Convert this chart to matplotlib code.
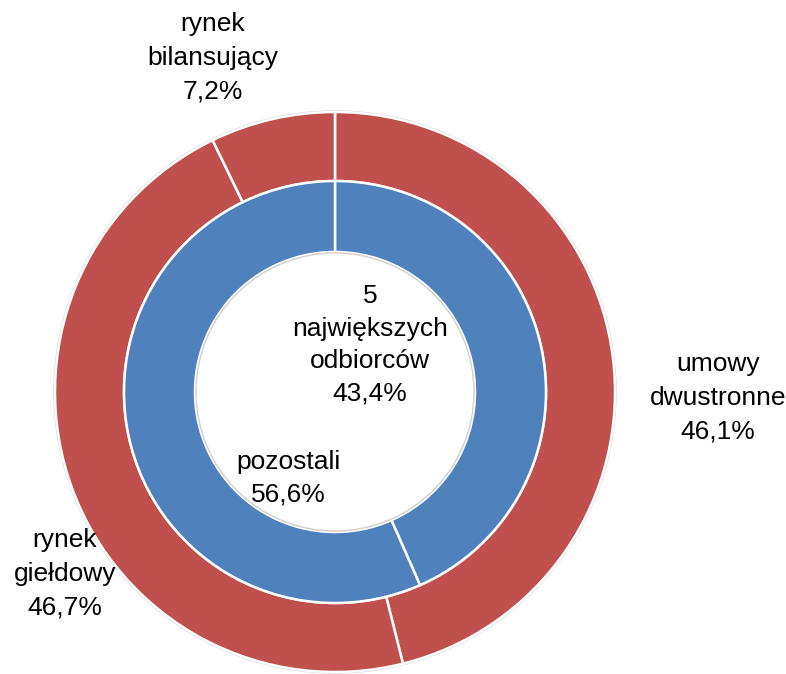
import matplotlib.pyplot as plt

# Data
outer_labels = ["umowy\ndwustronne", "rynek\ngiełdowy", "rynek\nbilansujący"]
outer_values = [46.1, 46.7, 7.2]
inner_labels = ["5\nnajwiększych\nodbiorców", "pozostali"]
inner_values = [43.4, 56.6]

RED = "#C0504D"
BLUE = "#4F81BD"

plt.rcParams['font.family'] = ['Liberation Sans', 'DejaVu Sans']

fig = plt.figure(figsize=(7.86, 6.74), dpi=100)
ax = fig.add_axes([0, 0, 1, 1])

# pixel-like coordinates, pie centre placed like the original
cx, cy = 335, 674 - 392
r_out, r_mid, r_in = 280, 211, 140

ax.pie(outer_values, radius=r_out, center=(cx, cy), startangle=90, counterclock=False,
       colors=[RED] * 3, wedgeprops=dict(width=r_out - r_mid, edgecolor='white', linewidth=1.8))
ax.pie(inner_values, radius=r_mid, center=(cx, cy), startangle=90, counterclock=False,
       colors=[BLUE] * 2, wedgeprops=dict(width=r_mid - r_in, edgecolor='white', linewidth=1.8))

# faint shadow-ish outlines
ax.add_patch(plt.Circle((cx, cy), r_out + 1, fill=False, edgecolor='#d0d0d0', linewidth=1, zorder=0))
ax.add_patch(plt.Circle((cx, cy), r_in - 1, fill=False, edgecolor='#d0d0d0', linewidth=1, zorder=5))

# Labels
label_pos_outer = [(718, 674 - 398), (65, 674 - 574), (213, 674 - 58)]
for lab, val, (x, y) in zip(outer_labels, outer_values, label_pos_outer):
    txt = f"{lab}\n{val:.1f}%".replace(".", ",")
    ax.text(x, y, txt, ha='center', va='center', fontsize=19, linespacing=1.5, color='black')

label_pos_inner = [(370, 674 - 345), (288, 674 - 478)]
for lab, val, (x, y) in zip(inner_labels, inner_values, label_pos_inner):
    txt = f"{lab}\n{val:.1f}%".replace(".", ",")
    ax.text(x, y, txt, ha='center', va='center', fontsize=19, linespacing=1.45, color='black', zorder=10)

ax.set_xlim(0, 786)
ax.set_ylim(0, 674)
ax.set_aspect('auto')
ax.axis('off')

fig.savefig("out.png", dpi=100)
